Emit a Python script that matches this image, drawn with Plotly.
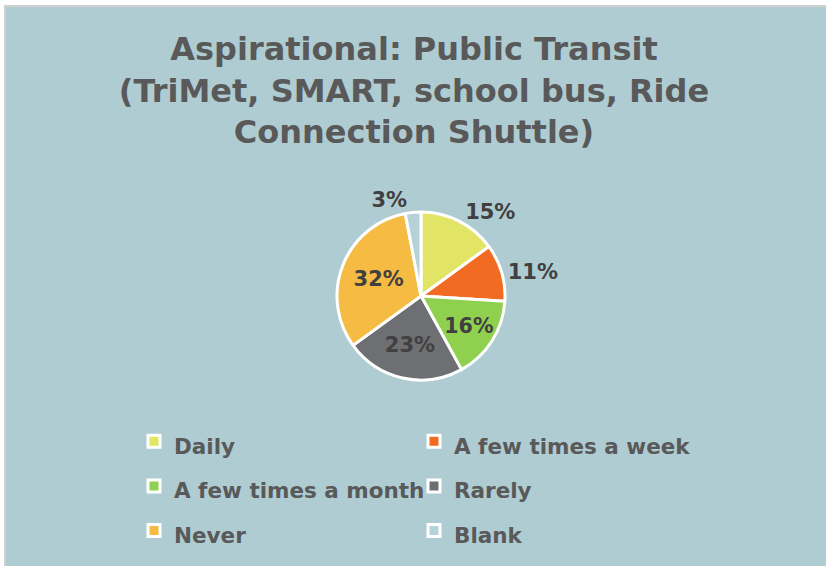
import plotly.graph_objects as go

categories = ["Daily", "A few times a week", "A few times a month", "Rarely", "Never", "Blank"]
values = [15, 11, 16, 23, 32, 3]
colors = ["#E1E465", "#F26B22", "#90D04F", "#6E6F73", "#F6BB43", "#B5D2D8"]
text_positions = ["outside", "outside", "inside", "inside", "inside", "outside"]
title_lines = ["Aspirational: Public Transit", "(TriMet, SMART, school bus, Ride", "Connection Shuttle)"]

BG = "#AFCCD3"
TXT = "#595959"
FONT = "DejaVu Sans"
W, H = 828, 566

legend_labels = [f"<span style='font-size:21.5px'>{c}</span>" for c in categories]

cx, cy, r = 421 / W, 1 - 296 / H, 84
fig = go.Figure(go.Pie(
    labels=legend_labels,
    values=values,
    sort=False,
    direction="clockwise",
    rotation=0,
    marker=dict(colors=colors, line=dict(color="white", width=3)),
    textinfo="percent",
    textposition=text_positions,
    insidetextorientation="horizontal",
    textfont=dict(family=FONT, size=21, color="#404040", weight=700),
    hoverinfo="skip",
    domain=dict(x=[cx - r / W, cx + r / W], y=[cy - r / H, cy + r / H]),
))

fig.update_layout(
    width=W, height=H,
    margin=dict(l=0, r=0, t=0, b=0),
    paper_bgcolor=BG,
    title=dict(
        text="<br>".join(title_lines),
        x=0.5, xanchor="center", y=1 - 60 / H, yanchor="top",
        font=dict(family=FONT, size=32, color=TXT, weight=700),
    ),
    legend=dict(
        orientation="h",
        x=134 / W, xanchor="left", y=1 - 414 / H, yanchor="top",
        entrywidth=235, entrywidthmode="pixels",
        font=dict(family=FONT, size=32, color=TXT, weight=700),
        bgcolor="rgba(0,0,0,0)",
        traceorder="normal",
    ),
    shapes=[
        dict(type="rect", xref="paper", yref="paper", x0=0, x1=4 / W, y0=0, y1=1,
             fillcolor="white", line=dict(width=0), layer="above"),
        dict(type="rect", xref="paper", yref="paper", x0=0, x1=1, y0=1 - 5 / H, y1=1,
             fillcolor="white", line=dict(width=0), layer="above"),
        dict(type="rect", xref="paper", yref="paper", x0=826 / W, x1=1, y0=0, y1=1,
             fillcolor="white", line=dict(width=0), layer="above"),
        dict(type="line", xref="paper", yref="paper", x0=5 / W, x1=5 / W, y0=0, y1=1 - 5 / H,
             line=dict(color="#D0D0D0", width=2), layer="above"),
        dict(type="line", xref="paper", yref="paper", x0=4 / W, x1=826 / W, y0=1 - 6 / H, y1=1 - 6 / H,
             line=dict(color="#D0D0D0", width=2), layer="above"),
    ],
)

fig.write_html("out.html", config={"displayModeBar": False},
               post_script="document.body.style.margin='0';")
